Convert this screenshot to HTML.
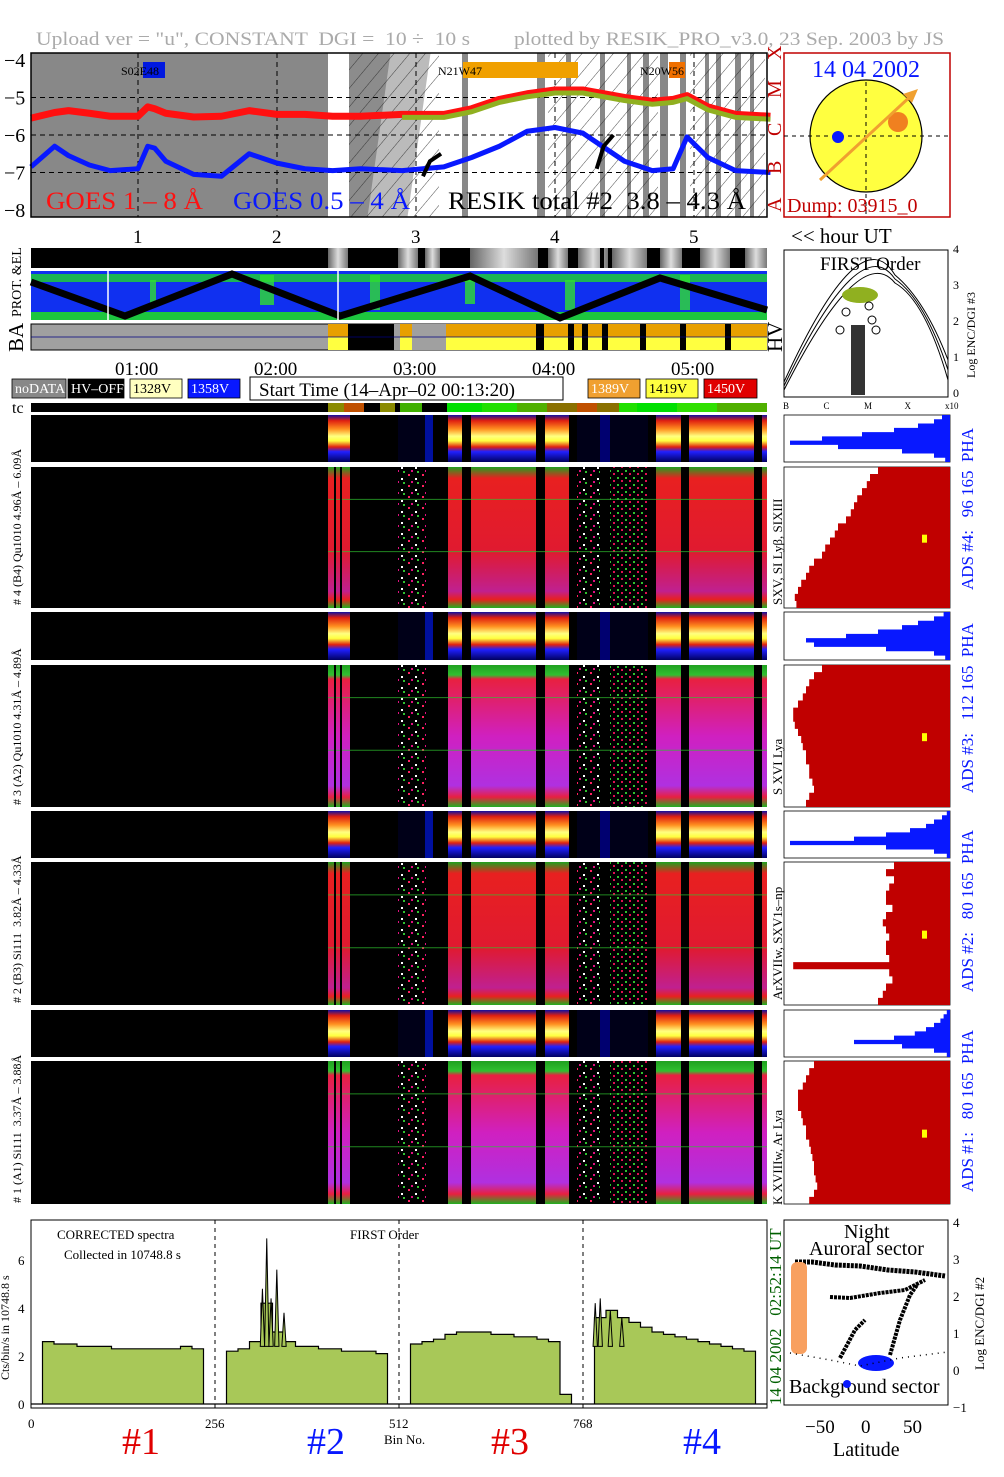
<!DOCTYPE html>
<html><head><meta charset="utf-8"><title>RESIK quicklook</title>
<style>
html,body{margin:0;padding:0;background:#fff;}
svg{display:block;font-family:"Liberation Serif",serif;}
text{white-space:pre;}
</style></head>
<body>
<svg id="main" width="1004" height="1477" viewBox="0 0 1004 1477" xmlns="http://www.w3.org/2000/svg">
<defs>
<pattern id="hatch" width="12" height="12" patternUnits="userSpaceOnUse" patternTransform="rotate(40)"><line x1="0" y1="0" x2="0" y2="12" stroke="#222" stroke-width="0.8"/></pattern>
<pattern id="noise" width="14" height="11" patternUnits="userSpaceOnUse"><rect x="2" y="1" width="2" height="2" fill="#ff2060"/><rect x="9" y="5" width="2" height="2" fill="#fff"/><rect x="5" y="8" width="2" height="2" fill="#e01080"/><rect x="11" y="9" width="2" height="2" fill="#30c030"/></pattern>
<pattern id="noiseg" width="8" height="7" patternUnits="userSpaceOnUse"><rect x="1" y="1" width="2" height="2" fill="#30c030"/><rect x="5" y="4" width="2" height="2" fill="#e01050"/></pattern>
<linearGradient id="gSmall" x1="0" y1="0" x2="0" y2="1">
<stop offset="0" stop-color="#1010a0"/><stop offset="0.12" stop-color="#e02010"/><stop offset="0.3" stop-color="#ff9020"/><stop offset="0.45" stop-color="#ffff80"/><stop offset="0.55" stop-color="#ffff40"/><stop offset="0.68" stop-color="#e02010"/><stop offset="0.78" stop-color="#2020ff"/><stop offset="1" stop-color="#000060"/></linearGradient>
<linearGradient id="gMag" x1="0" y1="0" x2="0" y2="1">
<stop offset="0" stop-color="#20a020"/><stop offset="0.07" stop-color="#30c030"/><stop offset="0.1" stop-color="#e82040"/><stop offset="0.5" stop-color="#d020c0"/><stop offset="0.85" stop-color="#b030e0"/><stop offset="0.93" stop-color="#e82040"/><stop offset="1" stop-color="#20b020"/></linearGradient>
<linearGradient id="gRed" x1="0" y1="0" x2="0" y2="1">
<stop offset="0" stop-color="#20a020"/><stop offset="0.08" stop-color="#e82020"/><stop offset="0.6" stop-color="#e01a30"/><stop offset="0.88" stop-color="#c02090"/><stop offset="0.94" stop-color="#e82020"/><stop offset="1" stop-color="#20b020"/></linearGradient>
<linearGradient id="gStrip" x1="0" y1="0" x2="1" y2="0"><stop offset="0" stop-color="#666"/><stop offset="0.5" stop-color="#ddd"/><stop offset="1" stop-color="#777"/></linearGradient>
</defs>
<g id="root"></g>
</svg>
<script>
// ---------- DATA ----------
const goesHours = [0.23,0.4,0.5,0.65,0.8,1.0,1.07,1.12,1.2,1.4,1.6,1.8,2.0,2.2,2.4,2.6,2.9,3.2,3.4,3.6,3.8,4.0,4.2,4.5,4.7,4.85,4.95,5.1,5.3,5.55];
const goesLong  = [-5.55,-5.4,-5.35,-5.42,-5.5,-5.5,-5.25,-5.3,-5.42,-5.52,-5.5,-5.35,-5.45,-5.45,-5.5,-5.5,-5.45,-5.45,-5.3,-5.05,-4.9,-4.8,-4.8,-5.0,-5.1,-5.05,-4.95,-5.25,-5.45,-5.5];
const goesShort = [-6.85,-6.3,-6.55,-6.8,-6.95,-6.9,-6.3,-6.35,-6.7,-7.05,-7.1,-6.5,-6.75,-6.9,-6.95,-6.9,-6.95,-6.85,-6.6,-6.3,-5.9,-5.8,-5.95,-6.7,-6.95,-6.9,-6.05,-6.6,-6.95,-7.0];
const hourTicks = ["1","2","3","4","5"];
const timeTicks = ["01:00","02:00","03:00","04:00","05:00"];
const goesYTicks = ["−4","−5","−6","−7","−8"];
const classLabels = ["X","M","C","B","A"];
const specVals = [0,2.6,2.5,2.5,2.4,2.4,2.4,2.3,2.3,2.3,2.3,2.3,2.3,2.4,2.3,0,
 0,2.2,2.3,2.6,4.2,3.0,2.6,2.4,2.4,2.3,2.3,2.2,2.2,2.2,2.1,0,
 0,2.5,2.6,2.7,2.9,3.0,3.0,3.0,2.9,2.9,2.8,2.8,2.7,2.6,0.4,0,
 0,3.6,3.9,3.6,3.4,3.2,3.0,2.9,2.8,2.7,2.6,2.5,2.4,2.3,2.2,0];
const peakBins = [322,328,334,342,352,785,792,806,822];
const peakVals = [4.8,6.9,4.4,5.6,3.8,4.2,4.4,3.9,3.6];
const specXTicks = [0,256,512,768];
const specYTicks = [0,2,4,6];
const phaHist = [
 [0.05,0.1,0.2,0.35,0.55,0.8,1.0,0.7,0.3,0.1,0.03],
 [0.04,0.1,0.2,0.3,0.45,0.65,0.9,0.85,0.4,0.1,0.03],
 [0.02,0.05,0.1,0.15,0.25,0.4,0.6,1.0,0.4,0.1,0.02],
 [0.02,0.04,0.06,0.1,0.15,0.22,0.35,0.6,0.3,0.1,0.02]];
const adsHist = [
 [0.45,0.5,0.52,0.55,0.58,0.6,0.62,0.65,0.7,0.72,0.75,0.78,0.8,0.85,0.88,0.9,0.93,0.95,0.97,0.96],
 [0.8,0.85,0.88,0.9,0.92,0.95,0.98,0.98,0.97,0.95,0.93,0.92,0.9,0.9,0.88,0.88,0.86,0.85,0.88,0.9],
 [0.35,0.4,0.35,0.38,0.4,0.4,0.36,0.4,0.42,0.4,0.38,0.4,0.4,0.38,0.98,0.38,0.36,0.4,0.42,0.45],
 [0.85,0.88,0.9,0.92,0.95,0.95,0.95,0.93,0.92,0.9,0.9,0.88,0.87,0.86,0.85,0.85,0.84,0.83,0.85,0.88]];

const NS="http://www.w3.org/2000/svg";
const root=document.getElementById('root');
function mk(tag,attrs,name,parent){
 const el=document.createElementNS(NS,tag);
 for(const k in attrs) el.setAttribute(k,attrs[k]);
 
 
 (parent||root).appendChild(el);return el;}
function txt(x,y,s,size,fill,name,extra){
 const a=Object.assign({x:x,y:y,'font-size':size,fill:fill},extra||{});
 const t=mk('text',a,name);t.textContent=s;return t;}
function rect(x,y,w,h,fill,name,extra){return mk('rect',Object.assign({x:x,y:y,width:w,height:h,fill:fill},extra||{}),name);}

const xT=h=>31+(h-0.2302)*139;
const yG=v=>60+(-4-v)*37.5;
const xB=b=>31+b*736/1024;
const yB=v=>1404-v*24;

txt(36,45,'Upload ver = "u", CONSTANT  DGI =  10 ÷  10 s','19','#aaa','title-upload',{textLength:434,lengthAdjust:'spacingAndGlyphs'});
txt(514,45,'plotted by RESIK_PRO_v3.0, 23 Sep. 2003 by JS','19','#aaa','title-plotted-by',{textLength:430,lengthAdjust:'spacingAndGlyphs'});

rect(31,53,736,164,'#fff','goes-panel-bg');
rect(31,53,297,164,'#888','goes-night-shade');
rect(349,53,50,164,'#8c8c8c','goes-shade-2');
rect(398,53,40,164,'#bbb','goes-shade-3',{transform:'skewX(-8)'});
rect(349,53,90,164,'url(#hatch)','goes-hatch-1');
[[462,6],[537,8],[566,5],[600,5],[627,4],[643,6],[660,8],[680,6],[705,4],[716,5],[735,6],[750,4]].forEach((s,i)=>rect(s[0],53,s[1],164,'#888','goes-gap-'+i));
rect(548,53,110,164,'url(#hatch)','goes-hatch-2');
rect(690,53,75,164,'url(#hatch)','goes-hatch-3');
for(let i=0;i<5;i++) mk('line',{x1:xT(i+1),x2:xT(i+1),y1:53,y2:217,stroke:'#000','stroke-dasharray':'5,4','stroke-width':1},'goes-vgrid-'+i);
[-5,-6,-7].forEach((v,i)=>mk('line',{x1:31,x2:767,y1:yG(v),y2:yG(v),stroke:'#000','stroke-dasharray':'5,4','stroke-width':1},'goes-hgrid-'+i));
rect(143,62,22,16,'#0018e0','flare-marker-s02e48');txt(121,75,'S02E48','12','#000','flare-label-s02e48');
rect(463,62,115,16,'#f0a000','flare-marker-n21w47');txt(438,75,'N21W47','12','#000','flare-label-n21w47');
rect(669,62,16,16,'#f07000','flare-marker-n20w56');txt(640,75,'N20W56','12','#000','flare-label-n20w56');
function poly(xs,ys,name,attrs){return mk('polyline',Object.assign({points:xs.map((x,i)=>x+','+ys[i]).join(' '),fill:'none'},attrs),name);}
poly(goesHours.map(xT),goesLong.map(yG),'goes-long-line',{stroke:'#ff1010','stroke-width':7,'stroke-linejoin':'round'});
poly(goesHours.map(xT),goesShort.map(yG),'goes-short-line',{stroke:'#0818ff','stroke-width':5,'stroke-linejoin':'round'});
const rIdx=[16,17,18,19,20,21,22,23,24,25,26,27,28,29];
poly(rIdx.map(i=>xT(goesHours[i])),rIdx.map(i=>yG(goesLong[i])+3),'resik-total-line',{stroke:'#90b020','stroke-width':5,'stroke-linejoin':'round'});
poly([xT(3.05),xT(3.1),xT(3.18)],[yG(-7.1),yG(-6.7),yG(-6.5)],'resik-black-track',{stroke:'#000','stroke-width':4});
poly([xT(4.3),xT(4.35),xT(4.42)],[yG(-6.9),yG(-6.3),yG(-6.0)],'resik-black-track-2',{stroke:'#000','stroke-width':4});
txt(46,209,'GOES 1 – 8 Å','25','#ff1010','goes-long-label',{textLength:157,lengthAdjust:'spacingAndGlyphs'});
txt(233,209,'GOES 0.5 – 4 Å','25','#0818ff','goes-short-label',{textLength:177,lengthAdjust:'spacingAndGlyphs'});
txt(448,209,'RESIK total #2  3.8 – 4.3 Å','25','#000','resik-total-label',{textLength:298,lengthAdjust:'spacingAndGlyphs'});
rect(31,53,736,164,'none','goes-frame',{stroke:'#000','stroke-width':1.5});
goesYTicks.forEach((s,i)=>txt(4,67+i*37.5,s,'20','#000','goes-ytick-'+i));
for(let i=0;i<5;i++){txt(0,0,classLabels[i],'20','#c00000','goes-class-'+classLabels[i],{transform:`translate(781,${60+i*38}) rotate(-90)`});}
rect(784,53,166,164,'#fff','sun-box',{stroke:'#c00000','stroke-width':1.5});
txt(812,77,'14 04 2002','24','#0818ff','sun-date');
mk('circle',{cx:866,cy:136,r:56,fill:'#ffff40',stroke:'#000','stroke-width':1.2},'sun-disk');
mk('line',{x1:784,x2:950,y1:136,y2:136,stroke:'#000','stroke-dasharray':'4,4'},'sun-hline');
mk('line',{x1:866,x2:866,y1:82,y2:214,stroke:'#000','stroke-dasharray':'4,4'},'sun-vline');
mk('circle',{cx:838,cy:137,r:6,fill:'#0818ff'},'sun-blue-region');
mk('circle',{cx:898,cy:122,r:10,fill:'#f08020'},'sun-orange-region');
mk('line',{x1:820,y1:180,x2:913,y2:94,stroke:'#f0a030','stroke-width':3},'sun-arrow');
mk('polygon',{points:'918,89 903,94 912,103',fill:'#f0a030'},'sun-arrow-head');
txt(787,212,'Dump: 03915_0','20','#c00000','dump-label');
hourTicks.forEach((s,i)=>txt(xT(i+1)-5,243,s,'19','#000','hour-tick-'+s));
txt(791,243,'<< hour UT','21','#000','hour-ut-label');
rect(31,248,736,20,'#000','prot-strip');
[[328,20],[398,20],[425,15],[470,68],[548,20],[578,30],[612,35],[660,22],[700,30],[745,22]].forEach((s,i)=>rect(s[0],248,s[1],20,'url(#gStrip)','prot-strip-seg-'+i));
[[350,12],[396,2],[445,5],[540,6],[570,4],[600,4],[650,6],[685,6]].forEach((s,i)=>rect(s[0],248,s[1],20,'#000','prot-strip-gap-'+i));
rect(31,271,736,49,'#1030f0','prot-map');
rect(31,274,736,8,'#20e020','prot-map-green-top',{opacity:0.75});
rect(31,312,736,8,'#20e020','prot-map-green-bot',{opacity:0.85});
[[150,280,6,25],[260,275,14,30],[370,275,10,35],[465,274,10,30],[565,280,10,30],[680,275,10,35]].forEach((s,i)=>rect(s[0],s[1],s[2],s[3],'#30e030','prot-map-blob-'+i,{opacity:0.8}));
poly([31,125,232,340,470,560,660,767],[282,316,274,316,276,318,278,310],'orbit-track',{stroke:'#000','stroke-width':7});
mk('line',{x1:108,x2:108,y1:271,y2:320,stroke:'#fff','stroke-width':1.5},'prot-map-marker-1');
mk('line',{x1:338,x2:338,y1:271,y2:320,stroke:'#fff','stroke-width':1.5},'prot-map-marker-2');
txt(0,0,'PROT. &EL','14','#000','prot-label',{transform:'translate(21,317) rotate(-90)'});
rect(31,324,736,26,'#a0a0a0','ba-bar',{stroke:'#000','stroke-width':1});
rect(328,324,439,13,'#e8a000','ba-orange');
rect(328,337,439,13,'#ffff40','ba-yellow');
[[348,14],[362,32],[394,6],[412,14],[426,20],[536,8],[568,6],[582,6],[602,6],[640,6],[680,6],[725,6]].forEach((s,i)=>rect(s[0],324,s[1],26,i==2||i==4||i==3?'#a0a0a0':'#000','ba-gap-'+i));
mk('line',{x1:31,x2:767,y1:337,y2:337,stroke:'#000080','stroke-width':0.8},'ba-midline');
txt(0,0,'BA','21','#000','ba-label',{transform:'translate(23,352) rotate(-90)'});
txt(0,0,'HV','21','#000','hv-label',{transform:'translate(782,352) rotate(-90)'});
rect(784,250,164,147,'#fff','first-order-plot',{stroke:'#000','stroke-width':1});
txt(820,270,'FIRST Order','19','#000','first-order-title');
['0','1','2','3','4'].forEach((s,i)=>txt(953,397-i*36,s,'12','#000','first-order-ytick-'+s));
txt(0,0,'Log ENC/DGI #3','12','#000','first-order-ylabel',{transform:'translate(975,378) rotate(-90)'});
['B','C','M','X','x10'].forEach((s,i)=>txt(783+i*40.5,409,s,'9','#000','first-order-xtick-'+s));
for(let k=0;k<3;k++) mk('path',{d:`M784,${390-k*4} Q860,${240-k*12} 895,${283-k*4} Q925,${300} 948,${380-k*10}`,fill:'none',stroke:'#000','stroke-width':1},'first-order-curve-'+k);
mk('ellipse',{cx:860,cy:295,rx:18,ry:8,fill:'#90b020'},'first-order-olive-cluster');
rect(851,325,14,70,'#000','first-order-point-column',{opacity:0.8});
[[872,320],[869,306],[846,312],[876,330],[840,330]].forEach((p,i)=>mk('circle',{cx:p[0],cy:p[1],r:4,fill:'none',stroke:'#000'},'first-order-point-'+i));
timeTicks.forEach((s,i)=>txt(xT(i+1)-23,375,s,'19','#000','time-tick-'+i));
const legend=[[12,54,'#888','#fff','noDATA'],[68,56,'#000','#fff','HV–OFF'],[130,52,'#ffffc0','#000','1328V'],[188,52,'#0818ff','#fff','1358V'],[588,52,'#f0a030','#fff','1389V'],[646,52,'#ffff40','#000','1419V'],[704,53,'#e00000','#fff','1450V']];
legend.forEach((l,i)=>{rect(l[0],379,l[1],19,l[2],'legend-box-'+l[4],{stroke:'#000','stroke-width':0.8});txt(l[0]+3,393,l[4],'14',l[3],'legend-label-'+l[4]);});
rect(250,377,313,23,'#fff','start-time-box',{stroke:'#000','stroke-width':1});
txt(259,396,'Start Time (14–Apr–02 00:13:20)','19','#000','start-time-label');
txt(12,413,'tc','16','#000','tc-label');
rect(31,403,736,9,'#000','tc-bar');
[[328,16,'#8a8a00'],[344,20,'#c05000'],[380,15,'#8a8a00'],[400,22,'#40b000'],[447,35,'#00e000'],[482,35,'#20e000'],[517,30,'#50b000'],[547,30,'#8a7000'],[577,20,'#c05000'],[597,22,'#8a7000'],[619,18,'#20e000'],[637,40,'#00e000'],[677,40,'#30e000'],[717,50,'#50b000']].forEach((s,i)=>rect(s[0],403,s[1],9,s[2],'tc-seg-'+i));
const hotCols=[[328,350],[448,462],[471,536],[545,569],[656,681],[689,754],[762,767]];
const noiseCols=[[398,426],[577,600],[610,648]];
const panels=[[415,462,'s',0],[467,608,'L',0],[612,660,'s',1],[665,807,'L',1],[811,858,'s',2],[862,1005,'L',2],[1010,1057,'s',3],[1061,1204,'L',3]];
const largeFill=['url(#gRed)','url(#gMag)','url(#gRed)','url(#gMag)'];
panels.forEach((p,pi)=>{
 const y0=p[0],h=p[1]-p[0];
 rect(31,y0,736,h,'#000','spectrogram-'+pi);
 hotCols.forEach((c,ci)=>rect(c[0],y0,c[1]-c[0],h,p[2]=='s'?'url(#gSmall)':largeFill[p[3]],'spectrogram-'+pi+'-col-'+ci));
 noiseCols.forEach((c,ci)=>rect(c[0],y0,c[1]-c[0],h,p[2]=='s'?'#000018':(ci==2?'url(#noiseg)':'url(#noise)'),'spectrogram-'+pi+'-noise-'+ci));
 if(p[2]=='L'){[0.23,0.6].forEach((f,k)=>mk('line',{x1:328,x2:767,y1:y0+h*f,y2:y0+h*f,stroke:'#30c030','stroke-width':1,opacity:0.7},'spectrogram-'+pi+'-band-'+k));
  [334,340].forEach((x,k)=>rect(x,y0,2,h,'#000','spectrogram-'+pi+'-div-'+k));}
 else{rect(425,y0,8,h,'#0010a0','spectrogram-'+pi+'-bluecol');rect(600,y0,10,h,'#000070','spectrogram-'+pi+'-bluecol2');}
 rect(784,y0,166,h,'#fff','hist-box-'+pi,{stroke:'#000','stroke-width':0.8});
 const arr=p[2]=='s'?phaHist[p[3]]:adsHist[p[3]];
 const pts=['950,'+y0];const n=arr.length;
 arr.forEach((v,i)=>{const yy=y0+h*i/n,yy2=y0+h*(i+1)/n,xx=950-v*160;pts.push(xx+','+yy,xx+','+yy2);});
 pts.push('950,'+(y0+h));
 mk('polygon',{points:pts.join(' '),fill:p[2]=='s'?'#0818ff':'#c00000'},'hist-'+pi);
 if(p[2]=='L') rect(922,y0+h*0.48,5,8,'#ffff00','hist-marker-'+pi);
});
const leftLabels=['# 4 (B4) Qu1010 4.96Å – 6.09Å','# 3 (A2) Qu1010 4.31Å – 4.89Å','# 2 (B3) Si111  3.82Å – 4.33Å','# 1 (A1) Si111  3.37Å – 3.88Å'];
const pairCenters=[510,710,908,1108];
leftLabels.forEach((s,i)=>txt(0,0,s,'12','#000','channel-label-'+(4-i),{transform:`translate(21,${pairCenters[i]+95}) rotate(-90)`}));
const innerLabels=['SXV, SI Lyβ, SIXIII','S XVI Lya','ArXVIIw, SXV1s–np','K XVIIIw, Ar Lya'];
const innerCenters=[540,730,935,1140];
innerLabels.forEach((s,i)=>txt(0,0,s,'13','#000','line-id-label-'+i,{transform:`translate(782,${innerCenters[i]+65}) rotate(-90)`}));
const adsLabels=['ADS #4:   96 165  PHA','ADS #3:   112 165  PHA','ADS #2:   80 165  PHA','ADS #1:   80 165  PHA'];
adsLabels.forEach((s,i)=>txt(0,0,s,'17','#0818ff','ads-label-'+(4-i),{transform:`translate(973,${[590,793,992,1192][i]}) rotate(-90)`}));
rect(31,1220,736,188,'#fff','spectrum-plot',{stroke:'#000','stroke-width':1});
const sp=['31,'+yB(0)];
specVals.forEach((v,i)=>{sp.push(xB(i*16)+','+yB(v),xB(i*16+16)+','+yB(v));});
sp.push('767,'+yB(0));
mk('polygon',{points:sp.join(' '),fill:'#a8c858',stroke:'#000','stroke-width':1.2},'spectrum-area');
peakBins.forEach((b,i)=>mk('polygon',{points:`${xB(b-3)},${yB(2.4)} ${xB(b)},${yB(peakVals[i])} ${xB(b+3)},${yB(2.4)}`,fill:'#a8c858',stroke:'#000','stroke-width':1},'spectrum-peak-'+i));
[256,512,768].forEach((b,i)=>mk('line',{x1:xB(b),x2:xB(b),y1:1220,y2:1408,stroke:'#000','stroke-dasharray':'4,4'},'spectrum-divider-'+i));
specXTicks.forEach((b,i)=>txt(xB(b)-(b?10:3),1428,String(b),'13','#000','spectrum-xtick-'+b));
specYTicks.forEach((v,i)=>txt(18,yB(v)+5,String(v),'13','#000','spectrum-ytick-'+v));
txt(384,1444,'Bin No.','13','#000','spectrum-xlabel');
txt(0,0,'Cts/bin/s in 10748.8 s','12','#000','spectrum-ylabel',{transform:'translate(9,1380) rotate(-90)'});
txt(57,1239,'CORRECTED spectra','13','#000','spectrum-note-1');
txt(64,1259,'Collected in 10748.8 s','13','#000','spectrum-note-2');
txt(350,1239,'FIRST Order','13','#000','spectrum-order');
txt(0,0,'14 04 2002   02:52:14 UT','17','#006000','spectrum-timestamp',{transform:'translate(781,1405) rotate(-90)'});
[['#1',122,'#e00000'],['#2',307,'#0818ff'],['#3',491,'#e00000'],['#4',683,'#0818ff']].forEach(l=>txt(l[1],1454,l[0],'38',l[2],'detector-label-'+l[0].slice(1)));
rect(784,1220,164,185,'#fff','latitude-plot',{stroke:'#000','stroke-width':1});
txt(844,1238,'Night','20','#000','lat-night');
txt(809,1255,'Auroral sector','20','#000','lat-auroral');
txt(789,1393,'Background sector','20','#000','lat-background');
['4','3','2','1','0','−1'].forEach((s,i)=>txt(953,1227+i*37,s,'13','#000','lat-ytick-'+i));
txt(0,0,'Log ENC/DGI #2','13','#000','lat-ylabel',{transform:'translate(984,1370) rotate(-90)'});
[['−50',805],['0',861],['50',903]].forEach((t,i)=>txt(t[1],1433,t[0],'19','#000','lat-xtick-'+i));
txt(833,1456,'Latitude','20','#000','lat-xlabel');
poly([795,812,835,860,888,915,945],[1262,1262,1265,1266,1270,1272,1276],'lat-track-top',{stroke:'#000','stroke-width':5,'stroke-dasharray':'3,1'});
poly([830,850,880,905,925],[1297,1298,1293,1290,1280],'lat-track-mid',{stroke:'#000','stroke-width':4,'stroke-dasharray':'3,1'});
poly([840,855,865],[1358,1330,1320],'lat-track-left',{stroke:'#000','stroke-width':4,'stroke-dasharray':'3,1'});
poly([890,900,910,917],[1355,1320,1295,1285],'lat-track-right',{stroke:'#000','stroke-width':4,'stroke-dasharray':'3,1'});
rect(791,1262,16,92,'#f8a060','lat-orange-points',{rx:6});
mk('ellipse',{cx:876,cy:1363,rx:18,ry:8,fill:'#0818ff'},'lat-blue-cluster');
mk('circle',{cx:847,cy:1384,r:4,fill:'#0818ff'},'lat-blue-point');
poly([790,830,860,900,948],[1353,1360,1366,1358,1352],'lat-dotted-baseline',{stroke:'#000','stroke-width':1.5,'stroke-dasharray':'1,5'});
</script>
</body></html>
